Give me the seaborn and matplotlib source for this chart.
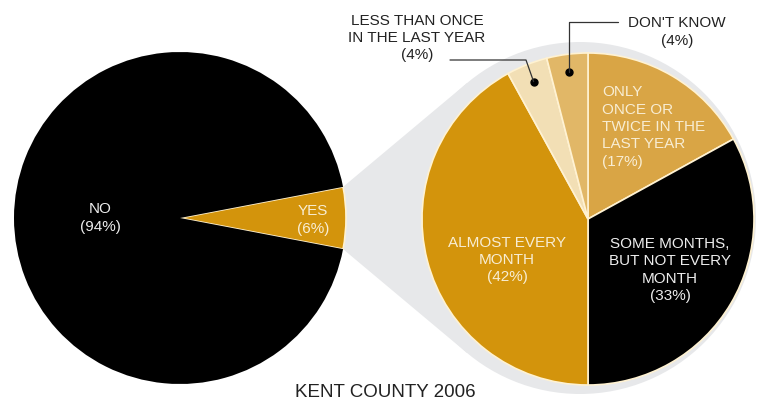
import numpy as np
import matplotlib
matplotlib.use("Agg")
import matplotlib.pyplot as plt
from matplotlib.patches import Circle, Polygon
import seaborn as sns

sns.set_theme(style="white")
plt.rcParams['font.family'] = ['Liberation Sans', 'DejaVu Sans']

# ---- data ----
left_labels = ["YES", "NO"]
left_values = [6, 94]
right_labels = ["ONLY ONCE OR TWICE IN THE LAST YEAR", "SOME MONTHS, BUT NOT EVERY MONTH",
                "ALMOST EVERY MONTH", "LESS THAN ONCE IN THE LAST YEAR", "DON'T KNOW"]
right_values = [17, 33, 42, 4, 4]
title = "KENT COUNTY 2006"

# ---- colours ----
GOLD = "#D3940C"
left_colors = [GOLD, "#000000"]
right_colors = sns.color_palette(["#D9A545", "#000000", GOLD, "#F2DFB5", "#E1B767"])
EDGE = "#FFF2D2"
GREY = "#E7E8EA"
CREAM = "#F8EDD3"

W, H = 762, 403
fig = plt.figure(figsize=(W / 100, H / 100), dpi=100)
ax = fig.add_axes([0, 0, 1, 1])

def Y(y_img):
    return H - y_img

lc = (180, Y(218)); lr = 166
rc = (588, Y(219)); rr = 166

# left pie: YES wedge centred on 0 degrees
yes_share = left_values[0] / sum(left_values) * 360
lw, _ = ax.pie(left_values, colors=left_colors, startangle=-yes_share / 2,
               counterclock=True, center=lc, radius=lr,
               wedgeprops=dict(edgecolor=EDGE, linewidth=1.2), frame=True)
lw[1].set_edgecolor("none")

# right pie: clockwise from 12 o'clock
rw, _ = ax.pie(right_values, colors=right_colors, startangle=90, counterclock=False,
               center=rc, radius=rr,
               wedgeprops=dict(edgecolor=EDGE, linewidth=1.2), frame=True)

# grey halo + connector
gc = (rc[0] - 8, rc[1] + 1); gr = 176
ax.add_patch(Circle(gc, gr, facecolor=GREY, edgecolor="none", zorder=0.5))
yes = lw[0]
pts = []
for ang in (yes.theta2, yes.theta1):
    a = np.deg2rad(ang)
    pts.append(np.array([lc[0] + lr * np.cos(a), lc[1] + lr * np.sin(a)]))

def tangent(P, upper):
    C = np.array(gc)
    d = P - C
    dist = np.hypot(*d)
    phi = np.arctan2(d[1], d[0])
    alpha = np.arccos(gr / dist)
    t = phi - alpha if upper else phi + alpha
    return C + gr * np.array([np.cos(t), np.sin(t)])

A, B = pts
tA = tangent(A, True)
tB = tangent(B, False)
ax.add_patch(Polygon([A, tA, gc, tB, B], closed=True, facecolor=GREY,
                     edgecolor="none", zorder=0.5))

fs = 11
ls = 1.3
# left labels
ax.text(100, Y(218), "NO\n(94%)", ha="center", va="center", color="#EDEDED",
        fontsize=fs, linespacing=ls)
ax.text(313, Y(220), "YES\n(6%)", ha="center", va="center", color=CREAM,
        fontsize=fs, linespacing=ls)

# right wedge labels
ax.text(602, Y(127), "ONLY\nONCE OR\nTWICE IN THE\nLAST YEAR\n(17%)", ha="left",
        va="center", color=CREAM, fontsize=fs, linespacing=ls)
ax.text(670, Y(270), "SOME MONTHS,\nBUT NOT EVERY\nMONTH\n(33%)", ha="center",
        va="center", color="#EDEDED", fontsize=fs, linespacing=ls)
ax.text(507, Y(260), "ALMOST EVERY\nMONTH\n(42%)", ha="center", va="center",
        color=CREAM, fontsize=fs, linespacing=ls)

# leader dots for small wedges
def mid_point(w, frac=0.89):
    a = np.deg2rad((w.theta1 + w.theta2) / 2)
    return rc[0] + rr * frac * np.cos(a), rc[1] + rr * frac * np.sin(a)

dx, dy = mid_point(rw[3])
ax.plot([dx], [dy], "o", color="black", ms=5, zorder=5)
ax.plot([450, 526, dx], [Y(60), Y(60), dy], color="#333333", lw=0.9, zorder=5)
ax.text(417, Y(38), "LESS THAN ONCE\nIN THE LAST YEAR\n(4%)", ha="center",
        va="center", color="#222222", fontsize=fs, linespacing=ls)

kx, ky = mid_point(rw[4])
ax.plot([kx], [ky], "o", color="black", ms=5, zorder=5)
ax.plot([kx, kx, 618], [ky, Y(22), Y(22)], color="#333333", lw=0.9, zorder=5)
ax.text(677, Y(32), "DON'T KNOW\n(4%)", ha="center", va="center",
        color="#222222", fontsize=fs, linespacing=ls)

ax.text(385, Y(401), title, ha="center", va="bottom", color="#222222", fontsize=13.5)

ax.set_xlim(0, W)
ax.set_ylim(0, H)
ax.set_aspect("equal")
ax.set_axis_off()
fig.savefig("out.png", dpi=100)
